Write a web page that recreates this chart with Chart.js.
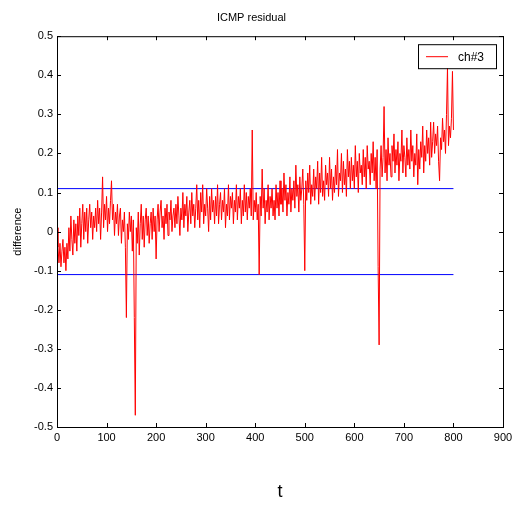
<!DOCTYPE html>
<html lang="en">
<head>
  <meta charset="UTF-8" />
  <title>ICMP residual</title>
  <script src="https://cdn.jsdelivr.net/npm/chart.js"></script>
  <style>
    body {
      margin: 0;
      background-color: #fff;
    }
  </style>
</head>
<body>
  <canvas id="residChart" width="517" height="507"></canvas>

  <script>
    // residual of ch#3, one sample every 2 steps of t (0..800), 20 samples per row
    const step = 2;
    const resid = [
      0.01, -0.04, -0.08, -0.03, -0.09, -0.05, -0.02, -0.08, -0.04, -0.10, -0.03, -0.07, 0.01, -0.05, 0.04, -0.02, -0.06, 0.03, -0.03, 0.02,
      -0.05, 0.04, -0.01, 0.06, -0.04, 0.02, 0.07, -0.02, 0.05, 0.00, 0.06, -0.03, 0.03, 0.07, 0.01, 0.05, -0.02, 0.04, 0.01, 0.06,
      0.00, 0.08, 0.02, 0.06, -0.02, 0.05, 0.14, 0.01, 0.07, 0.03, 0.09, 0.00, 0.06, 0.02, 0.08, 0.13, 0.03, 0.07, -0.01, 0.05,
      0.02, 0.07, -0.01, 0.04, 0.06, -0.03, 0.03, 0.00, 0.05, -0.04, -0.22, 0.02, -0.02, 0.05, 0.00, 0.04, -0.05, 0.03, -0.22, -0.47,
      0.01, -0.03, 0.05, -0.06, 0.02, 0.07, -0.02, 0.04, -0.04, 0.03, 0.06, -0.01, 0.04, -0.03, 0.02, 0.05, -0.02, 0.06, 0.00, 0.04,
      -0.07, 0.03, 0.07, 0.00, 0.05, 0.08, 0.01, 0.04, -0.02, 0.06, 0.02, 0.07, -0.01, 0.05, 0.03, 0.08, 0.00, 0.04, 0.06, 0.01,
      0.07, 0.02, 0.09, 0.04, -0.01, 0.06, 0.03, 0.10, 0.01, 0.07, 0.04, 0.09, 0.00, 0.05, 0.08, 0.02, 0.10, 0.04, 0.07, 0.01,
      0.06, 0.12, 0.03, 0.08, 0.01, 0.10, 0.05, 0.12, 0.02, 0.07, 0.04, 0.11, 0.06, 0.00, 0.09, 0.03, 0.11, 0.05, 0.08, 0.02,
      0.09, 0.04, 0.12, 0.02, 0.07, 0.10, 0.03, 0.08, 0.05, 0.11, 0.01, 0.07, 0.04, 0.12, 0.03, 0.09, 0.06, 0.10, 0.02, 0.08,
      0.05, 0.12, 0.03, 0.09, 0.06, 0.11, 0.02, 0.08, 0.04, 0.12, 0.05, 0.10, 0.03, 0.09, 0.06, 0.11, 0.04, 0.26, 0.03, 0.08,
      0.05, 0.10, 0.03, 0.07, -0.11, 0.09, 0.04, 0.16, 0.06, 0.11, 0.02, 0.08, 0.05, 0.12, 0.03, 0.09, 0.06, 0.11, 0.04, 0.08,
      0.03, 0.12, 0.06, 0.10, 0.04, 0.13, 0.07, 0.11, 0.05, 0.15, 0.08, 0.12, 0.04, 0.10, 0.07, 0.14, 0.05, 0.11, 0.08, 0.13,
      0.06, 0.17, 0.09, 0.12, 0.05, 0.14, 0.08, 0.11, 0.16, 0.07, -0.10, 0.13, 0.08, 0.15, 0.10, 0.17, 0.07, 0.12, 0.09, 0.16,
      0.08, 0.14, 0.11, 0.18, 0.07, 0.15, 0.10, 0.19, 0.09, 0.13, 0.08, 0.17, 0.12, 0.15, 0.09, 0.19, 0.11, 0.16, 0.08, 0.14,
      0.10, 0.17, 0.12, 0.21, 0.09, 0.15, 0.13, 0.20, 0.10, 0.18, 0.12, 0.16, 0.09, 0.21, 0.14, 0.18, 0.11, 0.19, 0.13, 0.17,
      0.11, 0.22, 0.14, 0.18, 0.10, 0.20, 0.15, 0.17, 0.12, 0.21, 0.14, 0.19, 0.11, 0.22, 0.16, 0.18, 0.12, 0.20, 0.15, 0.23,
      0.13, 0.19, 0.11, 0.21, -0.09, -0.29, 0.16, 0.22, 0.14, 0.19, 0.32, 0.15, 0.21, 0.13, 0.24, 0.17, 0.20, 0.14, 0.22, 0.18,
      0.25, 0.15, 0.21, 0.17, 0.23, 0.13, 0.20, 0.18, 0.26, 0.15, 0.22, 0.19, 0.14, 0.24, 0.17, 0.21, 0.16, 0.26, 0.18, 0.22,
      0.14, 0.20, 0.17, 0.25, 0.12, 0.21, 0.16, 0.23, 0.19, 0.27, 0.15, 0.22, 0.18, 0.26, 0.20, 0.24, 0.17, 0.28, 0.19, 0.23,
      0.28, 0.20, 0.25, 0.22, 0.27, 0.18, 0.13, 0.24, 0.21, 0.29, 0.23, 0.26, 0.20, 0.30, 0.42, 0.22, 0.27, 0.24, 0.29, 0.41,
      0.26
    ];
    const thresholds = [0.11, -0.11];
    const limitT = [0, 800];
    const xTicks = [0, 100, 200, 300, 400, 500, 600, 700, 800, 900];
    const yTicks = [-0.5, -0.4, -0.3, -0.2, -0.1, 0, 0.1, 0.2, 0.3, 0.4, 0.5];

    const font = "'Liberation Sans', Arial, sans-serif";
    const residPts = resid.map((v, i) => ({ x: i * step, y: v }));

    // matlab style box, inward ticks and legend inside the axes
    const matlabBox = {
      id: 'matlabBox',
      afterDraw(chart) {
        const { ctx, chartArea: a, scales } = chart;
        ctx.save();
        ctx.strokeStyle = '#000';
        ctx.lineWidth = 1;
        ctx.strokeRect(a.left + 0.5, a.top + 0.5, a.right - a.left, a.bottom - a.top);
        ctx.beginPath();
        xTicks.forEach(v => {
          const px = Math.round(scales.x.getPixelForValue(v)) + 0.5;
          ctx.moveTo(px, a.bottom); ctx.lineTo(px, a.bottom - 4);
          ctx.moveTo(px, a.top); ctx.lineTo(px, a.top + 4);
        });
        yTicks.forEach(v => {
          const py = Math.round(scales.y.getPixelForValue(v)) + 0.5;
          ctx.moveTo(a.left, py); ctx.lineTo(a.left + 4, py);
          ctx.moveTo(a.right, py); ctx.lineTo(a.right - 4, py);
        });
        ctx.stroke();

        // legend
        const ds = chart.data.datasets[0];
        const lx = a.right - 85, ly = a.top + 8;
        ctx.fillStyle = '#fff';
        ctx.fillRect(lx, ly, 78, 24);
        ctx.strokeRect(lx + 0.5, ly + 0.5, 78, 24);
        ctx.strokeStyle = ds.borderColor;
        ctx.beginPath();
        ctx.moveTo(lx + 8, ly + 12.5); ctx.lineTo(lx + 30, ly + 12.5);
        ctx.stroke();
        ctx.fillStyle = '#000';
        ctx.font = '12px ' + font;
        ctx.textBaseline = 'middle';
        ctx.fillText(ds.label, lx + 40, ly + 13);
        ctx.restore();
      }
    };

    new Chart(document.getElementById('residChart'), {
      type: 'line',
      data: {
        datasets: [
          {
            label: 'ch#3',
            data: residPts,
            borderColor: '#ff0000',
            borderWidth: 1,
            pointRadius: 0,
            tension: 0
          },
          {
            label: 'upper',
            data: limitT.map(t => ({ x: t, y: thresholds[0] })),
            borderColor: '#0000ff',
            borderWidth: 1,
            pointRadius: 0
          },
          {
            label: 'lower',
            data: limitT.map(t => ({ x: t, y: thresholds[1] })),
            borderColor: '#0000ff',
            borderWidth: 1,
            pointRadius: 0
          }
        ]
      },
      options: {
        responsive: false,
        animation: false,
        layout: { padding: { left: 0, right: 14, top: 0, bottom: 0 } },
        plugins: {
          legend: { display: false },
          tooltip: { enabled: false },
          title: {
            display: true,
            text: 'ICMP residual',
            color: '#000',
            font: { family: font, size: 11, weight: 'normal' },
            padding: { top: 11, bottom: 12 }
          }
        },
        scales: {
          x: {
            type: 'linear',
            min: 0,
            max: 900,
            afterBuildTicks: s => { s.ticks = xTicks.map(v => ({ value: v })); },
            afterFit: s => { s.height = 80; },
            grid: { display: false, drawTicks: false },
            border: { display: false },
            ticks: { color: '#000', padding: 4, font: { family: font, size: 11 } },
            title: {
              display: true,
              text: 't',
              color: '#000',
              font: { family: font, size: 18 },
              padding: { top: 0, bottom: 4 }
            }
          },
          y: {
            min: -0.5,
            max: 0.5,
            afterBuildTicks: s => { s.ticks = yTicks.map(v => ({ value: v })); },
            afterFit: s => { s.width = 57; },
            grid: { display: false, drawTicks: false },
            border: { display: false },
            ticks: {
              color: '#000',
              padding: 4,
              font: { family: font, size: 11 },
              callback: v => String(Math.round(v * 10) / 10)
            },
            title: {
              display: true,
              text: 'difference',
              color: '#000',
              font: { family: font, size: 11 },
              padding: { top: 11, bottom: 0 }
            }
          }
        }
      },
      plugins: [matlabBox]
    });
  </script>
</body>
</html>
